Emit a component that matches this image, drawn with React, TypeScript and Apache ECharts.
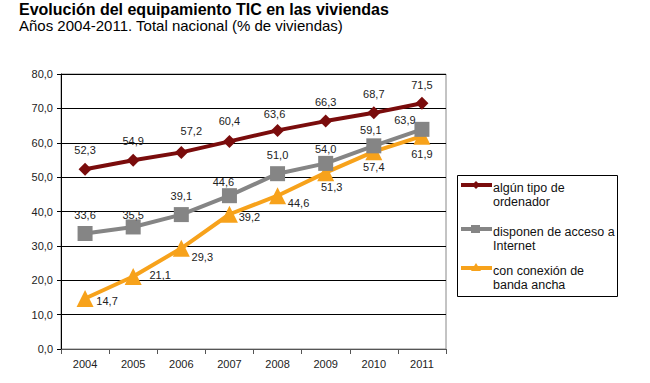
import React, { useEffect, useRef } from "react";
import * as echarts from "echarts";

const years = ["2004", "2005", "2006", "2007", "2008", "2009", "2010", "2011"];
const seriesNames = ["algún tipo de\nordenador", "disponen de acceso a\nInternet", "con conexión de\nbanda ancha"];
const ordenador = [52.3, 54.9, 57.2, 60.4, 63.6, 66.3, 68.7, 71.5];
const internet = [33.6, 35.5, 39.1, 44.6, 51.0, 54.0, 59.1, 63.9];
const bandaAncha = [14.7, 21.1, 29.3, 39.2, 44.6, 51.3, 57.4, 61.9];

const colors = ["#7a0c0c", "#858585", "#f7a21b"];
const symbols = ["diamond", "rect", "triangle"];
const symbolSizes = [13, 15, 17];

// label offsets (px) relative to the point centre
const labelOffsets = [
  [[0, -19], [0, -19], [10, -21], [0, -20], [-3, -16], [0, -19], [0, -19], [0, -18]],
  [[0, -19], [0, -12], [0, -19], [-6, -14], [0, -19], [0, -14], [-3, -16], [-17, -9]],
  [[22, 3], [27, -1], [21, 9], [20, 3], [21, 7], [6, 14], [0, 15], [0, 18]],
];

const fmt = (v: number) => v.toFixed(1).replace(".", ",");
const FONT = "Liberation Sans, Arial, sans-serif";

export default function App() {
  const ref = useRef<HTMLDivElement>(null);
  useEffect(() => {
    if (!ref.current) return;
    const chart = echarts.init(ref.current, null, { renderer: "svg" });
    const all = [ordenador, internet, bandaAncha];
    const series = all.map((vals, si) => ({
      type: "line",
      name: seriesNames[si],
      data: vals.map((v, i) => ({
        value: v,
        label: { offset: labelOffsets[si][i] },
      })),
      symbol: symbols[si],
      symbolSize: symbolSizes[si],
      z: 10 - si,
      lineStyle: { color: colors[si], width: 4 },
      itemStyle: { color: colors[si] },
      label: {
        show: true,
        position: "inside",
        formatter: (p: any) => fmt(p.value),
        color: "#222",
        fontSize: 11,
        fontFamily: FONT,
      },
    }));

    const legendLeft = 457;
    const legendItems = [185, 229, 268];
    const graphics: any[] = [
      {
        type: "rect",
        left: legendLeft,
        top: 175,
        shape: { width: 160, height: 121 },
        style: { fill: "#fff", stroke: "#000", lineWidth: 1 },
        z: 1,
      },
    ];
    legendItems.forEach((y, i) => {
      graphics.push({
        type: "line",
        shape: { x1: 461, y1: y, x2: 492, y2: y },
        style: { stroke: colors[i], lineWidth: 4 },
        z: 2,
      });
      if (i === 0) {
        graphics.push({
          type: "polygon",
          shape: { points: [[476, y - 4], [480, y], [476, y + 4], [472, y]] },
          style: { fill: colors[i] },
          z: 3,
        });
      } else if (i === 1) {
        graphics.push({
          type: "rect",
          shape: { x: 471, y: y - 4, width: 9, height: 8 },
          style: { fill: colors[i] },
          z: 3,
        });
      } else {
        graphics.push({
          type: "polygon",
          shape: { points: [[476, y - 5], [481, y + 3], [471, y + 3]] },
          style: { fill: colors[i] },
          z: 3,
        });
      }
      graphics.push({
        type: "text",
        x: 493,
        y: y - 4,
        style: {
          text: seriesNames[i],
          fill: "#111",
          font: `12.5px ${FONT}`,
          lineHeight: 14,
        },
        z: 3,
      });
    });

    chart.setOption({
      animation: false,
      backgroundColor: "#fff",
      title: [
        {
          text: "Evolución del equipamiento TIC en las viviendas",
          left: 19,
          top: 1,
          padding: 0,
          textStyle: { fontSize: 16, fontWeight: "bold", color: "#000", fontFamily: FONT },
        },
        {
          text: "Años 2004-2011. Total nacional (% de viviendas)",
          left: 19,
          top: 18,
          padding: 0,
          textStyle: { fontSize: 15, fontWeight: "normal", color: "#000", fontFamily: FONT },
        },
      ],
      grid: {
        left: 61,
        right: 204,
        top: 74,
        bottom: 34,
        show: true,
        borderColor: "#888",
        borderWidth: 1,
        backgroundColor: "transparent",
      },
      xAxis: {
        type: "category",
        data: years,
        boundaryGap: true,
        axisLine: { lineStyle: { color: "#555", width: 1 } },
        axisTick: { show: true, length: 5, lineStyle: { color: "#555" } },
        axisLabel: { color: "#222", fontSize: 11, fontFamily: FONT, margin: 9 },
      },
      yAxis: {
        type: "value",
        min: 0,
        max: 80,
        interval: 10,
        axisLine: { show: true, lineStyle: { color: "#000", width: 1 } },
        axisTick: { show: true, length: 4, lineStyle: { color: "#000" } },
        axisLabel: { color: "#222", fontSize: 11, fontFamily: FONT, formatter: (v: number) => fmt(v), margin: 8 },
        splitLine: { show: true, lineStyle: { color: "#000", width: 1 } },
      },
      series,
      graphic: graphics,
    });
    return () => chart.dispose();
  }, []);
  return (
    <div
      ref={ref}
      style={{ position: "fixed", left: 0, top: 0, width: 650, height: 383 }}
    />
  );
}
